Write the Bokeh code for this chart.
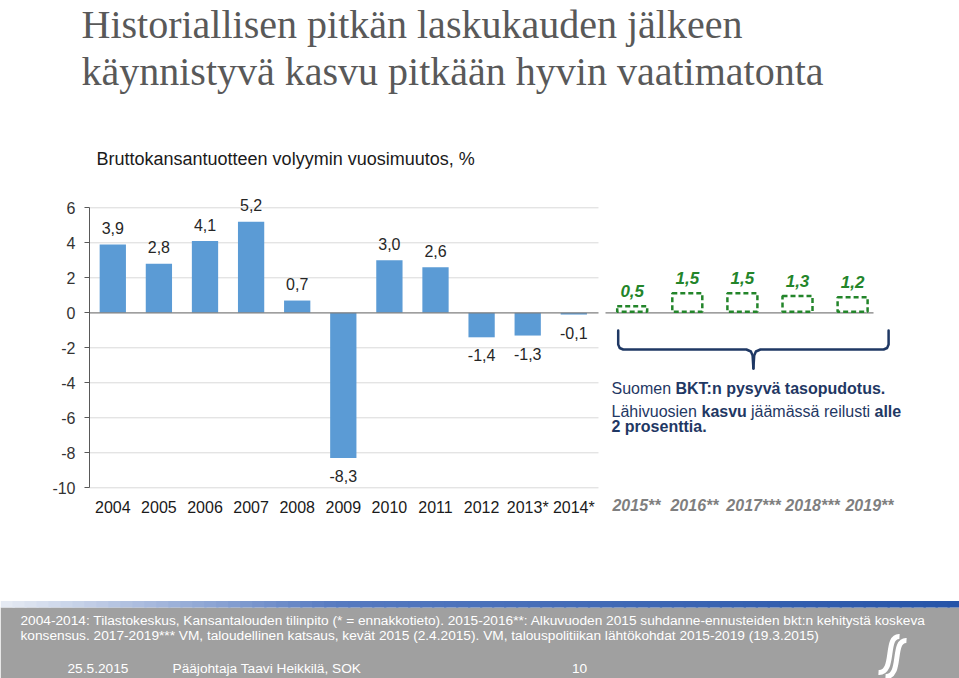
import numpy as np
from bokeh.plotting import figure
from bokeh.models import Range1d, LinearAxis, FixedTicker
from bokeh.core.properties import value
from bokeh.embed import file_html
from bokeh.resources import INLINE

# ---------------- data ----------------
years = ["2004", "2005", "2006", "2007", "2008", "2009", "2010", "2011", "2012", "2013*", "2014*"]
growth = [3.9, 2.8, 4.1, 5.2, 0.7, -8.3, 3.0, 2.6, -1.4, -1.3, -0.1]
fc_years = ["2015**", "2016**", "2017***", "2018***", "2019**"]
fc_growth = [0.5, 1.5, 1.5, 1.3, 1.2]
y_ticks = [-10, -8, -6, -4, -2, 0, 2, 4, 6]

title_lines = ["Historiallisen pitkän laskukauden jälkeen",
               "käynnistyvä kasvu pitkään hyvin vaatimatonta"]
subtitle = "Bruttokansantuotteen volyymin vuosimuutos, %"
foot_lines = ["2004-2014: Tilastokeskus, Kansantalouden tilinpito (* = ennakkotieto).  2015-2016**: Alkuvuoden 2015 suhdanne-ennusteiden bkt:n kehitystä koskeva",
              "konsensus. 2017-2019*** VM, taloudellinen katsaus, kevät 2015 (2.4.2015).  VM, talouspolitiikan lähtökohdat 2015-2019 (19.3.2015)"]

# ---------------- layout helpers (screen px -> data) ----------------
W, H = 959, 678
OX, OY = 0, 0
X0, DX = 112.3, 46.1      # screen x of first bar, px per category slot
Y0, DY = 312.3, 17.5      # screen y of zero, px per percent
DYF = 13.0                # px per percent for forecast boxes

def dx(sx):
    return (sx - X0) / DX

def dy(sy):
    return (Y0 - sy) / DY

SANS = "Liberation Sans"
SERIF = "Liberation Serif"
BAR = "#5b9bd5"
GREEN = "#23852a"
NAVY = "#1f3864"

p = figure(width=W, height=H, output_backend="svg", toolbar_location=None,
           x_range=Range1d(dx(OX), dx(OX + W)), y_range=Range1d(dy(OY + H), dy(OY)),
           x_axis_type=None, y_axis_type=None, min_border=0,
           outline_line_color=None, background_fill_color="white",
           border_fill_color="white")
p.extra_y_ranges = {"fc": Range1d((Y0 - (OY + H)) / DYF, (Y0 - OY) / DYF)}
p.xgrid.visible = False
p.ygrid.visible = False


def txt(sx, sy, s, size, color, style="normal", font=SANS, align="left", baseline="middle"):
    p.text(x=[dx(sx)], y=[dy(sy)], text=[s], text_font=value(font),
           text_font_size=f"{size}px", text_color=color, text_font_style=style,
           text_align=align, text_baseline=baseline)

# ---------------- titles ----------------
txt(81, 24, title_lines[0], 40, "#595959", font=SERIF, baseline="middle")
txt(81, 71, title_lines[1], 40, "#595959", font=SERIF, baseline="middle")
txt(96, 158, subtitle, 18, "#1a1a1a")

# ---------------- left chart ----------------
idx = np.arange(len(years))
x_left, x_right = dx(89), dx(598)

# grid lines
grid_y = [t for t in y_ticks if t != 0]
p.segment(x0=[x_left] * len(grid_y), x1=[x_right] * len(grid_y), y0=grid_y, y1=grid_y,
          line_color="#d9d9d9", line_width=1)

p.vbar(x=idx, top=growth, bottom=0, width=0.57, fill_color=BAR, line_color=None)

# zero line
p.segment(x0=[x_left], x1=[x_right], y0=[0], y1=[0], line_color="#7f7f7f", line_width=1.3)

labels = [f"{v:.1f}".replace(".", ",") for v in growth]
offs = [-16.5 if v >= 0 else 18 for v in growth]
p.text(x=idx, y=growth, text=labels, y_offset=offs, text_align="center",
       text_baseline="middle", text_font=value(SANS), text_font_size="16px",
       text_color="#262626")

yaxis = LinearAxis(fixed_location=x_left, bounds=(-10, 6),
                   ticker=FixedTicker(ticks=y_ticks, minor_ticks=[]),
                   major_label_overrides={t: str(t) for t in y_ticks},
                   axis_line_color="#595959", axis_line_width=1,
                   major_tick_line_color="#595959", major_tick_out=5, major_tick_in=0,
                   minor_tick_line_color=None, major_label_standoff=9,
                   major_label_text_font=SANS, major_label_text_font_size="16px",
                   major_label_text_color="#333333")
p.add_layout(yaxis, "left")

xaxis = LinearAxis(fixed_location=-10, ticker=FixedTicker(ticks=list(idx), minor_ticks=[]),
                   major_label_overrides={int(i): y for i, y in zip(idx, years)},
                   axis_line_color=None, major_tick_line_color=None,
                   minor_tick_line_color=None, major_label_standoff=5,
                   major_label_text_font=SANS, major_label_text_font_size="16px",
                   major_label_text_color="#1a1a1a")
p.add_layout(xaxis, "below")

# ---------------- forecast part ----------------
fx = dx(631.7) + np.arange(len(fc_years)) * (55.1 / DX)
hw = 15 / DX
p.segment(x0=[dx(605)], x1=[dx(873)], y0=[0], y1=[0], line_color="#7f7f7f", line_width=1.3)
p.quad(left=fx - hw, right=fx + hw, bottom=[0.08] * len(fx), top=fc_growth, y_range_name="fc",
       fill_color=None, line_color=GREEN, line_width=2.5, line_dash="5 3")
fc_labels = [f"{v:.1f}".replace(".", ",") for v in fc_growth]
p.text(x=fx, y=fc_growth, text=fc_labels, y_range_name="fc", y_offset=-15,
       text_align="center", text_baseline="middle", text_font=value(SANS),
       text_font_size="17px", text_font_style="bold italic", text_color=GREEN)

fc_tick_x = [dx(s) for s in (636, 694, 753, 812, 869)]
xaxis2 = LinearAxis(fixed_location=-10, ticker=FixedTicker(ticks=fc_tick_x, minor_ticks=[]),
                    major_label_overrides={t: y for t, y in zip(fc_tick_x, fc_years)},
                    axis_line_color=None, major_tick_line_color=None,
                    minor_tick_line_color=None, major_label_standoff=3,
                    major_label_text_font=SANS, major_label_text_font_size="16px",
                    major_label_text_font_style="bold italic",
                    major_label_text_color="#7f7f7f")
p.add_layout(xaxis2, "below")

# brace under forecasts
bl = fx[0] - hw + 1 / DX
br = fx[-1] + hw + 21 / DX
bm = (bl + br) / 2
left_half_x = [bl, bl, bl + 1.5 / DX, bl + 5 / DX, bm - 7 / DX, bm - 2.5 / DX, bm - 0.8 / DX, bm]
right_half_x = [br, br, br - 1.5 / DX, br - 5 / DX, bm + 7 / DX, bm + 2.5 / DX, bm + 0.8 / DX, bm]
half_y = [dy(330), dy(344), dy(347.5), dy(349), dy(349), dy(351), dy(355), dy(368)]
p.multi_line(xs=[left_half_x, right_half_x], ys=[half_y, half_y], line_color=NAVY,
             line_width=2.5, line_join="round", line_cap="round")

txt(611, 388, "Suomen", 16, NAVY)
txt(675, 388, "BKT:n pysyvä tasopudotus.", 16, NAVY, "bold")
txt(611, 411, "Lähivuosien", 16, NAVY)
txt(701, 411, "kasvu", 16, NAVY, "bold")
txt(750.5, 411, "jäämässä reilusti", 16, NAVY)
txt(874, 411, "alle", 16, NAVY, "bold")
txt(611, 426, "2 prosenttia.", 16, NAVY, "bold")

# ---------------- footer ----------------
xs0, xs1 = dx(OX), dx(OX + W)
p.quad(left=[xs0], right=[xs1], bottom=[dy(OY + H + 5)], top=[dy(607)],
       fill_color="#a0a0a0", line_color=None)
n = 80
stops = [0.0, 0.35, 1.0]
cols = np.array([[232, 236, 244], [86, 122, 192], [38, 84, 168]], dtype=float)
edges = np.linspace(OX, OX + W, n + 1)
grad_cols = []
for i in range(n):
    t = (edges[i] + edges[i + 1]) / 2 / (OX + W)
    c = [np.interp(t, stops, cols[:, k]) for k in range(3)]
    grad_cols.append("#%02x%02x%02x" % tuple(int(round(v)) for v in c))
p.quad(left=[dx(e) for e in edges[:-1]], right=[dx(e) + 0.05 for e in edges[1:]],
       bottom=[dy(607)] * n, top=[dy(600.5)] * n, fill_color=grad_cols, line_color=None)

txt(20, 620, foot_lines[0], 13.7, "white")
txt(20, 635, foot_lines[1], 13.7, "white")
txt(67, 668, "25.5.2015", 13.7, "white")
txt(172, 668, "Pääjohtaja Taavi Heikkilä, SOK", 13.7, "white")
txt(579, 668, "10", 13.7, "white", align="center")

# SOK logo (approximate)
p.bezier(x0=[dx(899), dx(906)], y0=[dy(636), dy(640)],
         x1=[dx(878), dx(885)], y1=[dy(672), dy(676)],
         cx0=[dx(884), dx(891)], cy0=[dy(635), dy(639)],
         cx1=[dx(895), dx(902)], cy1=[dy(673), dy(677)],
         line_color="white", line_width=5)

open("out.html", "w").write(file_html(p, INLINE))
